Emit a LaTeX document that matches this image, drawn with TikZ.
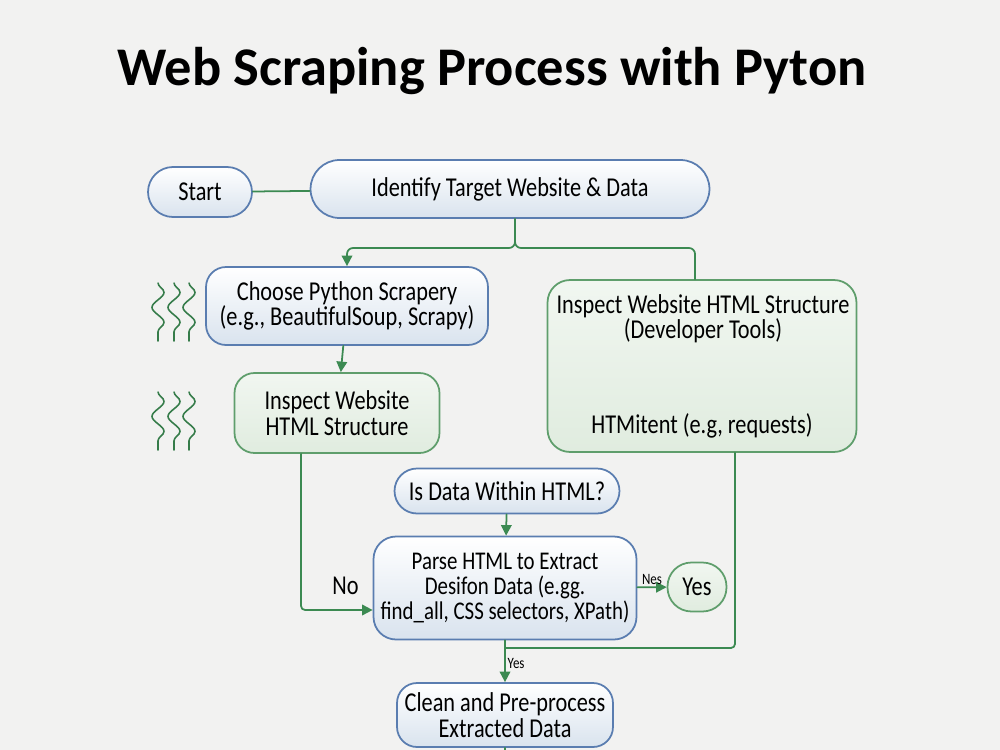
\documentclass[tikz,border=0pt]{standalone}
\usepackage{fontspec}
\setmainfont{Carlito}[FakeStretch=0.82]
\newfontfamily\titlefont{Carlito}
\usetikzlibrary{arrows.meta,decorations.pathmorphing}

\definecolor{paper}{HTML}{F2F2F1}
\definecolor{boxblue}{HTML}{5A7DB0}
\definecolor{fillblue}{HTML}{D9E3EE}
\definecolor{boxgreen}{HTML}{5F9E6C}
\definecolor{fillgreen}{HTML}{E0ECDF}
\definecolor{linkgreen}{HTML}{3C8A52}

\begin{document}
\begin{tikzpicture}[
    x=0.02cm, y=-0.02cm,
    line cap=round,
    line join=round,
    txt/.style={font=\fontsize{15.5}{14.4}\selectfont, text=black, align=center, inner sep=0pt},
    bluebox/.style={txt, draw=boxblue, line width=1pt, top color=white, bottom color=fillblue},
    greenbox/.style={txt, draw=boxgreen, line width=1pt, top color=fillgreen!45!white, bottom color=fillgreen},
    link/.style={draw=linkgreen, line width=1pt},
    arrow/.style={link, -{Triangle[length=6pt,width=6pt]}},
    small/.style={font=\fontsize{9}{9}\selectfont, inner sep=1pt},
    wiggle/.style={draw=linkgreen!90!black, line width=0.9pt, decorate,
        decoration={snake, amplitude=0.12cm, segment length=0.6cm}}
]

% -------------------------------------------------
% Fond et titre
% -------------------------------------------------

\fill[paper] (0,0) rectangle (1000,750);
\useasboundingbox (0,0) rectangle (1000,750);

\node[font=\titlefont\fontsize{31}{34}\selectfont\bfseries] (title) at (492,71) {Web Scraping Process with Pyton};

% -------------------------------------------------
% Boites
% -------------------------------------------------

\node[bluebox, minimum width=2.08cm, minimum height=1.0cm, rounded corners=0.5cm] (start) at (200,192) {Start};
\node[bluebox, minimum width=7.98cm, minimum height=1.16cm, rounded corners=0.58cm] (identify) at (510,189) {Identify Target Website \& Data};
\node[bluebox, minimum width=5.64cm, minimum height=1.56cm, rounded corners=0.4cm] (choose) at (347,306) {Choose Python Scrapery\\(e.g., BeautifulSoup, Scrapy)};
\node[greenbox, minimum width=4.1cm, minimum height=1.6cm, rounded corners=0.4cm] (inspect) at (337,413) {Inspect Website\\HTML Structure};
\node[greenbox, minimum width=6.18cm, minimum height=3.44cm, rounded corners=0.45cm] (devtools) at (702,366) {};
\node[txt] (devtitle) at (703,319) {Inspect Website HTML Structure\\(Developer Tools)};
\node[txt] (devlib) at (702,426) {HTMitent (e.g, requests)};
\node[bluebox, minimum width=4.5cm, minimum height=0.9cm, rounded corners=0.45cm] (isdata) at (507,491) {Is Data Within HTML?};
\node[bluebox, minimum width=5.26cm, minimum height=2.06cm, rounded corners=0.45cm,
      font=\fontsize{14.5}{14.2}\selectfont] (parse) at (505,588) {Parse HTML to Extract\\Desifon Data (e.gg.\\find\_all, CSS selectors, XPath)};
\node[greenbox, minimum width=1.18cm, minimum height=0.98cm, rounded corners=0.48cm] (yes) at (697,587) {Yes};
\node[bluebox, minimum width=4.32cm, minimum height=1.28cm, rounded corners=0.4cm] (clean) at (505,715) {Clean and Pre-process\\Extracted Data};

% -------------------------------------------------
% Ondulations
% -------------------------------------------------

\foreach \xx in {158,174,189} {
    \draw[wiggle] (\xx,283) -- (\xx,341);
    \draw[wiggle] (\xx,392) -- (\xx,450);
}

% -------------------------------------------------
% Liaisons
% -------------------------------------------------

\coordinate (split) at (515,248);
\coordinate (merge) at (505,648);

\draw[link] (start) -- (identify);
\draw[link] (identify.south -| split) -- ([yshift=0.12cm]split);
\draw[arrow, rounded corners=0.12cm] ([yshift=0.12cm]split) -- (split) -| (choose.north);
\draw[link, rounded corners=0.12cm] ([yshift=0.12cm]split) -- (split) -| ([xshift=-0.14cm]devtools.north);
\draw[arrow] (choose) -- (inspect);
\draw[arrow] (isdata) -- (parse);
\draw[arrow, rounded corners=0.08cm] ([xshift=-0.72cm]inspect.south) |- ([yshift=-0.44cm]parse.west)
    node[pos=0.81, above=8pt, txt] (nolbl) {No};
\draw[arrow] (parse) -- node[small, above] (neslbl) {Nes} (yes);
\draw[arrow] (parse) -- node[small, right, pos=0.55] (yeslbl) {Yes} (clean);
\draw[link, rounded corners=0.08cm] ([xshift=0.66cm]devtools.south) |- (merge);
\draw[link] (clean.south) -- ++(0,10);

\end{tikzpicture}
\end{document}
